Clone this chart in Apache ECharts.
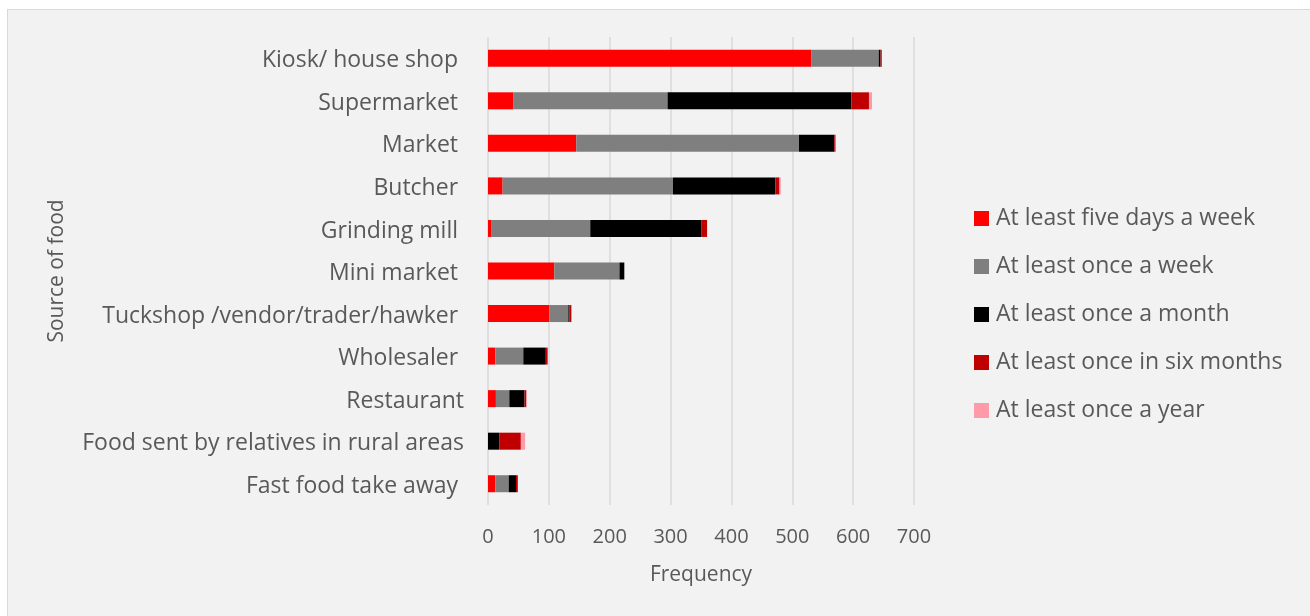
<!DOCTYPE html>
<html>
<head>
<meta charset="utf-8">
<script src="https://cdn.jsdelivr.net/npm/echarts@6/dist/echarts.min.js"></script>
<style>
  html, body { margin: 0; padding: 0; background: #ffffff; width: 1310px; height: 616px; overflow: hidden; }
  #frame { position: absolute; left: 7px; top: 9px; width: 1310px; height: 620px; background: #f2f2f2; border: 1.5px solid #d9d9d9; box-sizing: border-box; }
  #chart { position: absolute; left: 0; top: 0; width: 1310px; height: 616px; }
</style>
</head>
<body>
<div id="frame"></div>
<div id="chart"></div>
<script>
// Food sources, listed top to bottom
const sources = [
  "Kiosk/ house shop ",
  "Supermarket ",
  "Market ",
  "Butcher ",
  "Grinding mill ",
  "Mini market ",
  "Tuckshop /vendor/trader/hawker ",
  "Wholesaler ",
  "Restaurant",
  "Food sent by relatives in rural areas",
  "Fast food take away "
];

// Frequency of purchase, one array per frequency band
const fiveDaysWeek   = [531, 42, 145, 24, 6, 109, 101, 12, 13, 0, 12];
const onceWeek       = [111, 253, 366, 280, 162, 107, 31, 46, 22, 0, 22];
const onceMonth      = [3, 302, 58, 168, 183, 8, 2, 37, 25, 19, 12];
const onceSixMonths  = [2, 29, 2, 7, 9, 0, 3, 3, 3, 35, 3];
const onceYear       = [0, 5, 0, 2, 0, 0, 0, 0, 1, 7, 0];

const seriesNames = [
  "At least five days a week",
  "At least once a week",
  "At least once a month",
  "At least once in six months",
  "At least once a year"
];
const seriesData = [fiveDaysWeek, onceWeek, onceMonth, onceSixMonths, onceYear];
const seriesColors = ["#ff0000", "#7f7f7f", "#000000", "#c00000", "#ff9aa9"];

const xTicks = [0, 100, 200, 300, 400, 500, 600, 700];

const FONT = "'Open Sans', 'Noto Sans', sans-serif";
const TEXT = "#595959";

const chart = echarts.init(document.getElementById("chart"), null, { renderer: "canvas" });

chart.setOption({
  backgroundColor: "transparent",
  animation: false,
  textStyle: { fontFamily: FONT, color: TEXT },
  grid: { left: 488, top: 37, width: 426, height: 468, containLabel: false },
  legend: {
    orient: "vertical",
    left: 969,
    top: 202,
    itemWidth: 15,
    itemHeight: 15,
    itemGap: 25,
    icon: "rect",
    data: seriesNames,
    textStyle: { fontFamily: FONT, fontSize: 23, color: TEXT, lineHeight: 23, padding: [0, 0, 0, 2] }
  },
  xAxis: {
    type: "value",
    min: xTicks[0],
    max: xTicks[xTicks.length - 1],
    interval: 100,
    name: "Frequency",
    nameLocation: "middle",
    nameGap: 60,
    nameTextStyle: { fontFamily: FONT, fontSize: 21, color: TEXT },
    axisLine: { show: false },
    axisTick: { show: false },
    axisLabel: { fontFamily: FONT, fontSize: 20, color: TEXT, margin: 22 },
    splitLine: { show: true, lineStyle: { color: "#d9d9d9", width: 1.5 } }
  },
  yAxis: {
    type: "category",
    data: sources,
    inverse: true,
    name: "Source of food",
    nameLocation: "middle",
    nameGap: 420,
    nameRotate: 90,
    nameTextStyle: { fontFamily: FONT, fontSize: 21, color: TEXT },
    axisLine: { show: false },
    axisTick: { show: false },
    axisLabel: { fontFamily: FONT, fontSize: 23, color: TEXT, margin: 24, lineHeight: 27, verticalAlign: "top", padding: [-11, 0, 0, 0] }
  },
  series: seriesNames.map((name, i) => ({
    name: name,
    type: "bar",
    stack: "total",
    barWidth: 17,
    itemStyle: { color: seriesColors[i] },
    data: seriesData[i]
  }))
});
</script>
</body>
</html>
